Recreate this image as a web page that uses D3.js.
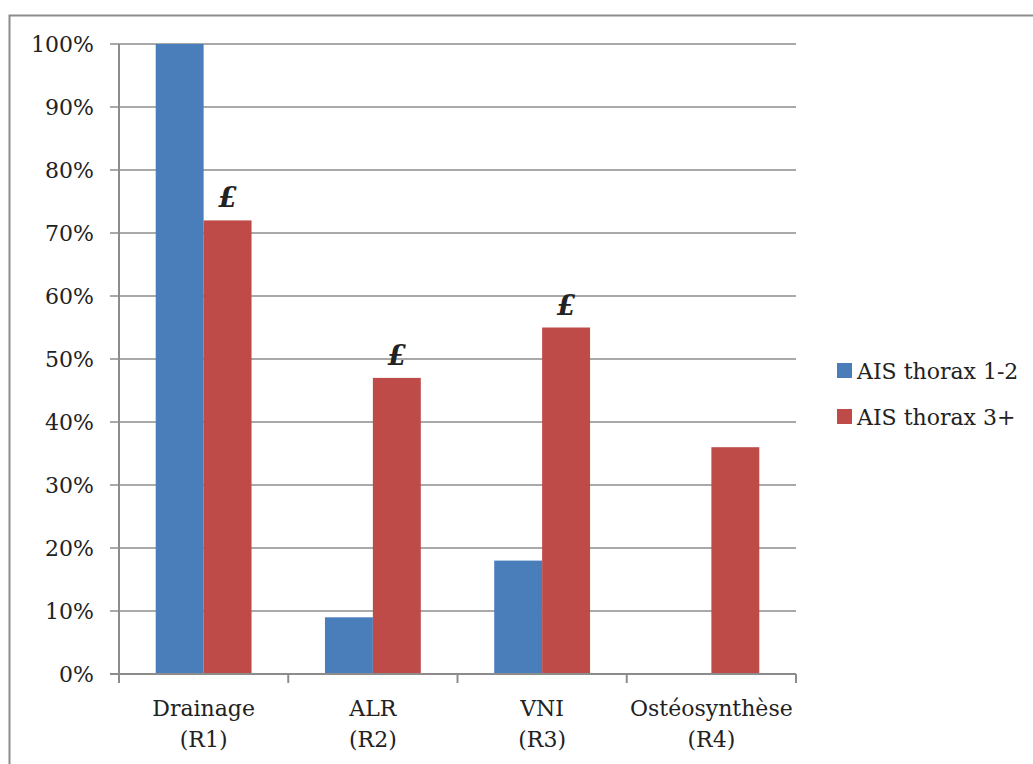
<!DOCTYPE html>
<html><head><meta charset="utf-8">
<script src="https://cdn.jsdelivr.net/npm/d3@7"></script>
<style>body{margin:0;background:#fff}svg{display:block}text{font-family:"DejaVu Serif",serif;fill:#222}</style>
</head><body><svg id="c" width="1033" height="764"></svg>
<script>
const categories = [["Drainage","(R1)"],["ALR","(R2)"],["VNI","(R3)"],["Ostéosynthèse","(R4)"]];
const seriesNames = ["AIS thorax 1-2","AIS thorax 3+"];
const series1 = [100, 9, 18, 0];
const series2 = [72, 47, 55, 36];
const markers = ["£", "£", "£", ""];
const yTicks = [0,10,20,30,40,50,60,70,80,90,100];
const colors = ["#4A7EBB","#BE4B48"];

const svg = d3.select("#c");
const pL = 119, pR = 796, pT = 44, pB = 674;
// outer frame
svg.append("rect").attr("x",9.5).attr("y",15.5).attr("width",1040).attr("height",780)
  .attr("fill","none").attr("stroke","#8c8c8c").attr("stroke-width",2);

const x = d3.scaleBand().domain(d3.range(categories.length)).range([pL,pR]).paddingInner(0).paddingOuter(0);
const xs = d3.scaleBand().domain([0,1]).range([0,x.bandwidth()]).paddingInner(0).paddingOuter(0.766);
const y = d3.scaleLinear().domain([0,100]).range([pB,pT]);

// grid
svg.append("g").selectAll("line").data(yTicks).join("line")
  .attr("x1",110).attr("x2",pR).attr("y1",d=>y(d)).attr("y2",d=>y(d))
  .attr("stroke","#8c8c8c").attr("stroke-width",1.5);

// bars
const data = [series1, series2];
data.forEach((s,si)=>{
  svg.append("g").selectAll("rect").data(s).join("rect")
    .attr("x",(d,i)=>x(i)+xs(si)).attr("width",xs.bandwidth())
    .attr("y",d=>y(d)).attr("height",d=>pB-y(d)).attr("fill",colors[si]);
});

// markers
svg.append("g").selectAll("text").data(series2).join("text")
  .attr("x",(d,i)=>x(i)+xs(1)+xs.bandwidth()/2).attr("y",d=>y(d)-13)
  .attr("text-anchor","middle").attr("font-size",27).attr("font-weight","bold").attr("font-style","italic")
  .text((d,i)=>markers[i]);

// y axis line
svg.append("line").attr("x1",pL).attr("x2",pL).attr("y1",pT).attr("y2",pB)
  .attr("stroke","#8c8c8c").attr("stroke-width",2);
// x axis line and ticks
svg.append("line").attr("x1",110).attr("x2",pR).attr("y1",pB).attr("y2",pB)
  .attr("stroke","#8c8c8c").attr("stroke-width",2);
const bounds = d3.range(categories.length+1).map(i=> i<categories.length ? x(i) : x(i-1)+x.bandwidth());
svg.append("g").selectAll("line").data(bounds).join("line")
  .attr("x1",d=>d).attr("x2",d=>d).attr("y1",pB).attr("y2",pB+9)
  .attr("stroke","#8c8c8c").attr("stroke-width",2);

// y labels
svg.append("g").selectAll("text").data(yTicks).join("text")
  .attr("x",94).attr("y",d=>y(d)+8).attr("text-anchor","end").attr("font-size",22)
  .text(d=>d+"%");

// x labels
const xl = svg.append("g").selectAll("text").data(categories).join("text")
  .attr("text-anchor","middle").attr("font-size",22);
xl.selectAll("tspan").data((d,i)=>d.map(t=>({t,i}))).join("tspan")
  .attr("x",d=>x(d.i)+x.bandwidth()/2).attr("y",(d,j)=>716+j*31).text(d=>d.t);

// legend
const lg = svg.append("g").selectAll("g").data(seriesNames).join("g")
  .attr("transform",(d,i)=>`translate(837,${363+i*46})`);
lg.append("rect").attr("width",15).attr("height",15).attr("fill",(d,i)=>colors[i]);
lg.append("text").attr("x",20).attr("y",16).attr("font-size",22).text(d=>d);
</script></body></html>
